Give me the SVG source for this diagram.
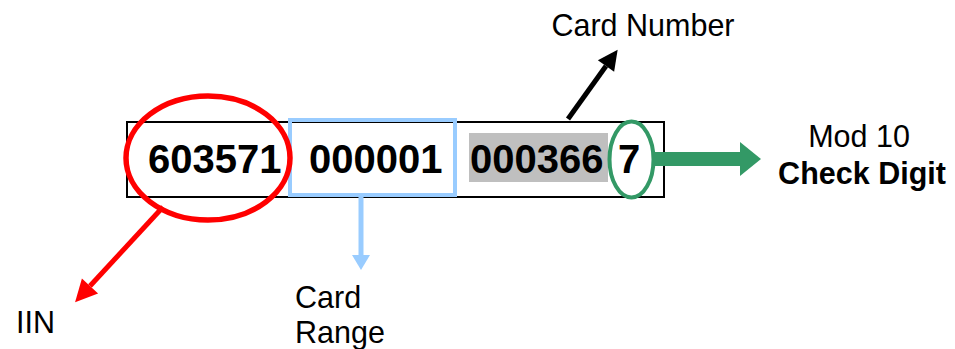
<svg xmlns="http://www.w3.org/2000/svg" width="955" height="349" viewBox="0 0 955 349">
<style>
.lbl{font-family:"Liberation Sans",Arial,sans-serif;font-size:30.5px;fill:#000}
.num{font-family:"Liberation Sans",Arial,sans-serif;font-size:40px;font-weight:bold;fill:#000}
.b{font-weight:bold}
</style>
<defs>
<marker id="hRed" markerUnits="userSpaceOnUse" orient="auto" refX="0" refY="0" markerWidth="30" markerHeight="30" overflow="visible"><path d="M0,-11 L22,0 L0,11 Z" fill="#FF0000"/></marker>
<marker id="hBlk" markerUnits="userSpaceOnUse" orient="auto" refX="0" refY="0" markerWidth="30" markerHeight="30" overflow="visible"><path d="M0,-10 L20,0 L0,10 Z" fill="#000"/></marker>
<marker id="hBlu" markerUnits="userSpaceOnUse" orient="auto" refX="0" refY="0" markerWidth="30" markerHeight="30" overflow="visible"><path d="M0,-9 L15,0 L0,9 Z" fill="#99CCFF"/></marker>
<marker id="hGrn" markerUnits="userSpaceOnUse" orient="auto" refX="0" refY="0" markerWidth="40" markerHeight="40" overflow="visible"><path d="M0,-17 L21,0 L0,17 Z" fill="#339966"/></marker>
</defs>
<rect width="955" height="349" fill="#fff"/>
<g id="card">
<rect x="127" y="122" width="537" height="75" fill="#fff" stroke="#000" stroke-width="2"/>
<rect x="469" y="133" width="139" height="49" fill="#BFBFBF"/>
<text class="num" x="148" y="173">603571</text>
<text class="num" x="309" y="173">000001</text>
<text class="num" x="470" y="173">000366</text>
<text class="num" x="618" y="173">7</text>
</g>
<g id="range-box"><rect x="290" y="120" width="165" height="75" fill="none" stroke="#99CCFF" stroke-width="4"/></g>
<g id="iin-ellipse"><ellipse cx="208" cy="158" rx="82" ry="62" fill="none" stroke="#FF0000" stroke-width="5.5"/></g>
<g id="check-ellipse"><ellipse cx="631.5" cy="159.5" rx="22" ry="38" fill="none" stroke="#339966" stroke-width="4"/></g>
<g id="connectors">
<line x1="163" y1="207" x2="90" y2="286" stroke="#FF0000" stroke-width="5" marker-end="url(#hRed)"/>
<line x1="361" y1="195" x2="361" y2="255" stroke="#99CCFF" stroke-width="5" marker-end="url(#hBlu)"/>
<line x1="568" y1="119" x2="606" y2="66" stroke="#000" stroke-width="5" marker-end="url(#hBlk)"/>
<line x1="655" y1="159" x2="740" y2="159" stroke="#339966" stroke-width="14" marker-end="url(#hGrn)"/>
</g>
<g id="label-card-number"><text class="lbl" x="643" y="36" text-anchor="middle">Card Number</text></g>
<g id="label-iin"><text class="lbl" x="16" y="333">IIN</text></g>
<g id="label-card-range"><text class="lbl" x="295" y="308">Card</text><text class="lbl" x="295" y="343">Range</text></g>
<g id="label-check"><text class="lbl" x="859" y="147" text-anchor="middle">Mod 10</text><text class="lbl b" x="862" y="184" text-anchor="middle">Check Digit</text></g>
</svg>
